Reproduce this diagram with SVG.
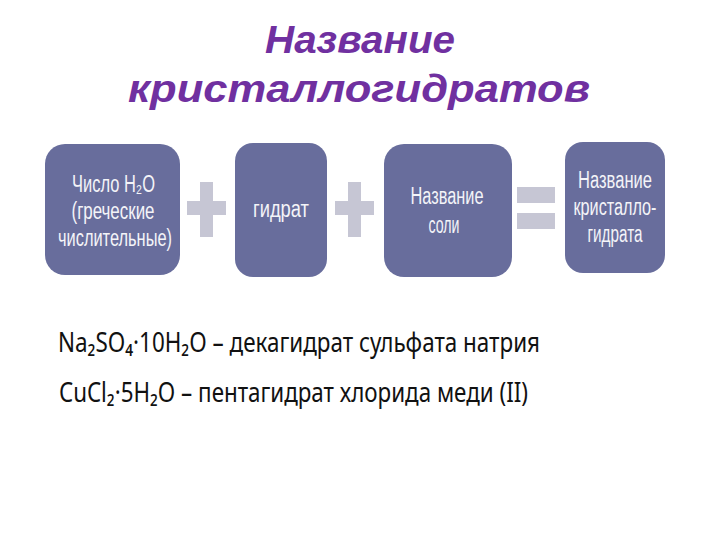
<svg xmlns="http://www.w3.org/2000/svg" width="720" height="540" viewBox="0 0 720 540">
<style>
.title{font-family:"Liberation Sans",Arial,sans-serif;font-weight:bold;font-style:italic;font-size:38px;fill:#7030a0;}
.box{fill:#686d9c;}
.op{fill:#c6c6d4;}
.bt{font-family:"Liberation Sans","Noto Sans",sans-serif;font-size:23px;fill:#f4f4f8;}
.ft{font-family:"Noto Sans","Open Sans","DejaVu Sans",sans-serif;font-size:28px;fill:#111;}
</style>
<rect width="720" height="540" fill="#ffffff"/>
<g id="title">
<text class="title" x="360" y="53" text-anchor="middle" textLength="190" lengthAdjust="spacingAndGlyphs">Название</text>
<text class="title" x="359" y="102" text-anchor="middle" textLength="462" lengthAdjust="spacingAndGlyphs">кристаллогидратов</text>
</g>
<g id="connectors">
<g id="plus1" class="op">
<rect x="200" y="182" width="13" height="55"/>
<rect x="187" y="201" width="39" height="14"/>
</g>
<g id="plus2" class="op">
<rect x="348" y="182" width="13" height="55"/>
<rect x="335" y="201" width="39" height="14"/>
</g>
<g id="equals" class="op">
<rect x="517" y="187" width="38" height="16"/>
<rect x="517" y="213" width="38" height="16"/>
</g>
</g>
<g id="node-count">
<rect class="box" x="45" y="144" width="135" height="131" rx="20"/>
<text class="bt" x="72" y="192" textLength="83" lengthAdjust="spacingAndGlyphs">Число H₂O</text>
<text class="bt" x="113" y="219" text-anchor="middle" textLength="83" lengthAdjust="spacingAndGlyphs">(греческие</text>
<text class="bt" x="115" y="246" text-anchor="middle" textLength="114" lengthAdjust="spacingAndGlyphs">числительные)</text>
</g>
<g id="node-hydrate">
<rect class="box" x="235" y="143" width="92" height="134" rx="18"/>
<text class="bt" x="281" y="217" text-anchor="middle" textLength="56" lengthAdjust="spacingAndGlyphs">гидрат</text>
</g>
<g id="node-salt">
<rect class="box" x="384" y="144" width="128" height="133" rx="20"/>
<text class="bt" x="447" y="204" text-anchor="middle" textLength="73" lengthAdjust="spacingAndGlyphs">Название</text>
<text class="bt" x="444" y="233" text-anchor="middle" textLength="31" lengthAdjust="spacingAndGlyphs">соли</text>
</g>
<g id="node-result">
<rect class="box" x="565" y="142" width="100" height="131" rx="18"/>
<text class="bt" x="615" y="188" text-anchor="middle" textLength="74" lengthAdjust="spacingAndGlyphs">Название</text>
<text class="bt" x="615" y="215" text-anchor="middle" textLength="83" lengthAdjust="spacingAndGlyphs">кристалло-</text>
<text class="bt" x="615" y="242" text-anchor="middle" textLength="55" lengthAdjust="spacingAndGlyphs">гидрата</text>
</g>
<g id="examples">
<text class="ft" x="58" y="352" textLength="482" lengthAdjust="spacingAndGlyphs">Na₂SO₄·10H₂O – декагидрат сульфата натрия</text>
<text class="ft" x="59" y="402" textLength="469" lengthAdjust="spacingAndGlyphs">CuCl₂·5H₂O – пентагидрат хлорида меди (II)</text>
</g>
</svg>
